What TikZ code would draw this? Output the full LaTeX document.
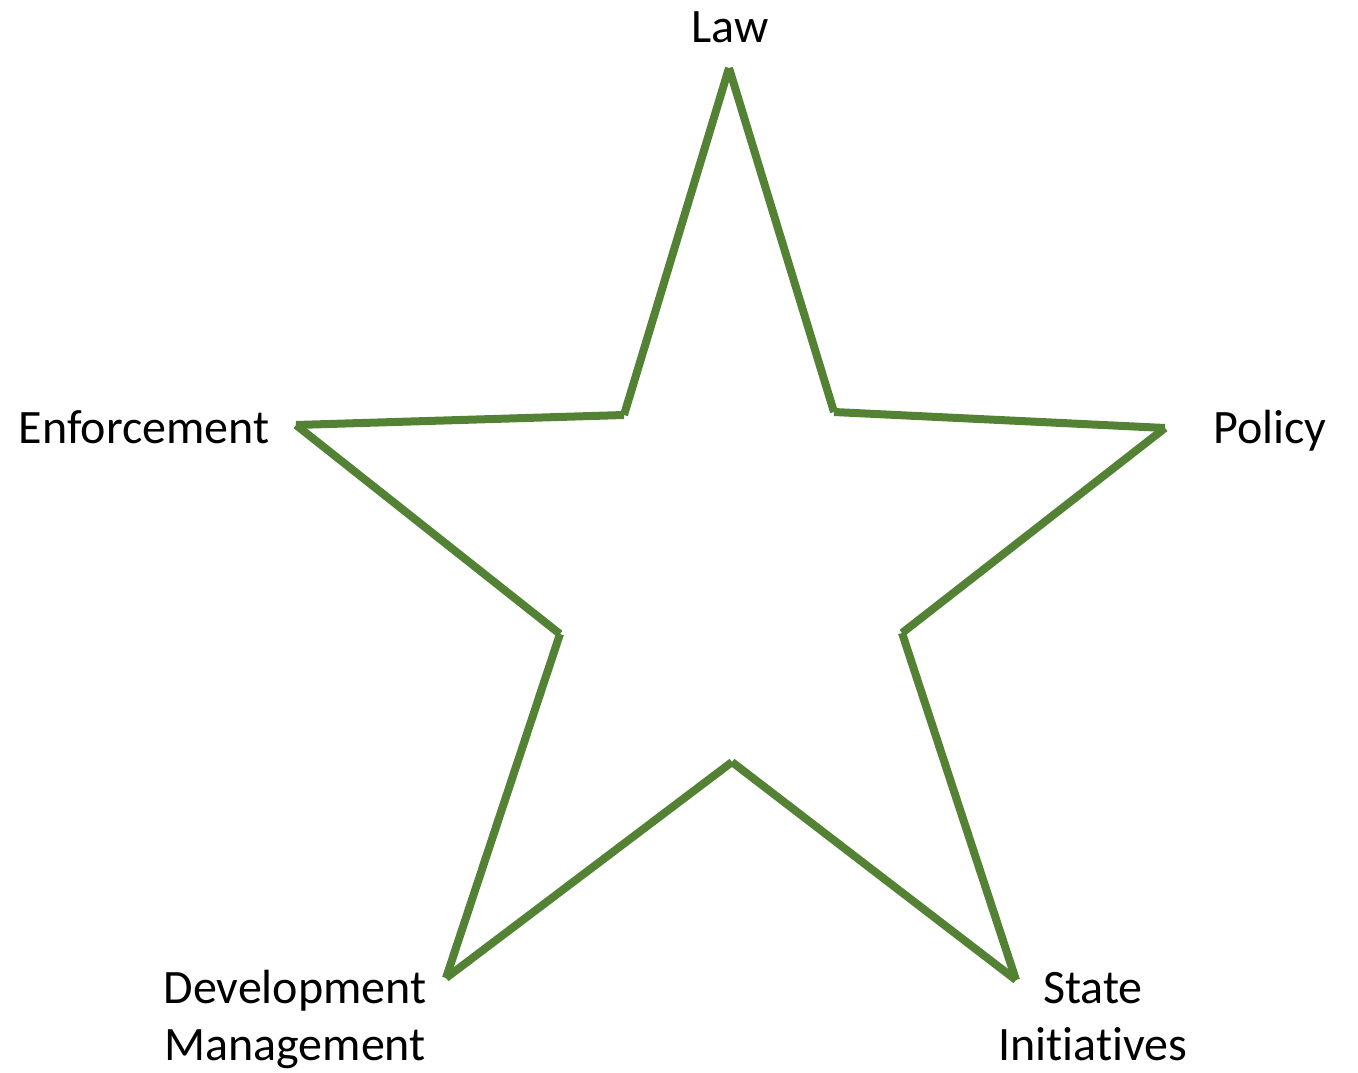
\documentclass[tikz,border=0pt]{standalone}
\usepackage{fontspec}
\setmainfont{Carlito}[Ligatures={NoCommon}]
\definecolor{stargreen}{HTML}{548235}
\tikzset{
  edge/.style={draw=stargreen, line width=8pt, line cap=butt},
  lbl/.style={inner sep=0pt, font=\fontsize{48}{57}\selectfont, align=center, anchor=base}
}
\begin{document}
\begin{tikzpicture}[x=1pt,y=-1pt]
\useasboundingbox (0,0) rectangle (1358,1073);
\coordinate (o1) at (729,68);
\coordinate (i1) at (834,412);
\coordinate (o2) at (1165,428);
\coordinate (i2) at (902,633);
\coordinate (o3) at (1016,980);
\coordinate (i3) at (732,762);
\coordinate (o4) at (446,978);
\coordinate (i4) at (560,634);
\coordinate (o5) at (296,425);
\coordinate (i5) at (624,415);
\draw[edge] (o1) -- (i1);
\draw[edge] (i1) -- (o2);
\draw[edge] (o2) -- (i2);
\draw[edge] (i2) -- (o3);
\draw[edge] (o3) -- (i3);
\draw[edge] (i3) -- (o4);
\draw[edge] (o4) -- (i4);
\draw[edge] (i4) -- (o5);
\draw[edge] (o5) -- (i5);
\draw[edge] (i5) -- (o1);
\node[lbl] (law) at (730,43) {Law};
\node[lbl] (enf) at (144,443) {Enforcement};
\node[lbl] (pol) at (1270,443) {Policy};
\node[lbl] (dev) at (295,1060) {Development\\Management};
\node[lbl] (sta) at (1093,1060) {State\\Initiatives};
\end{tikzpicture}
\end{document}
